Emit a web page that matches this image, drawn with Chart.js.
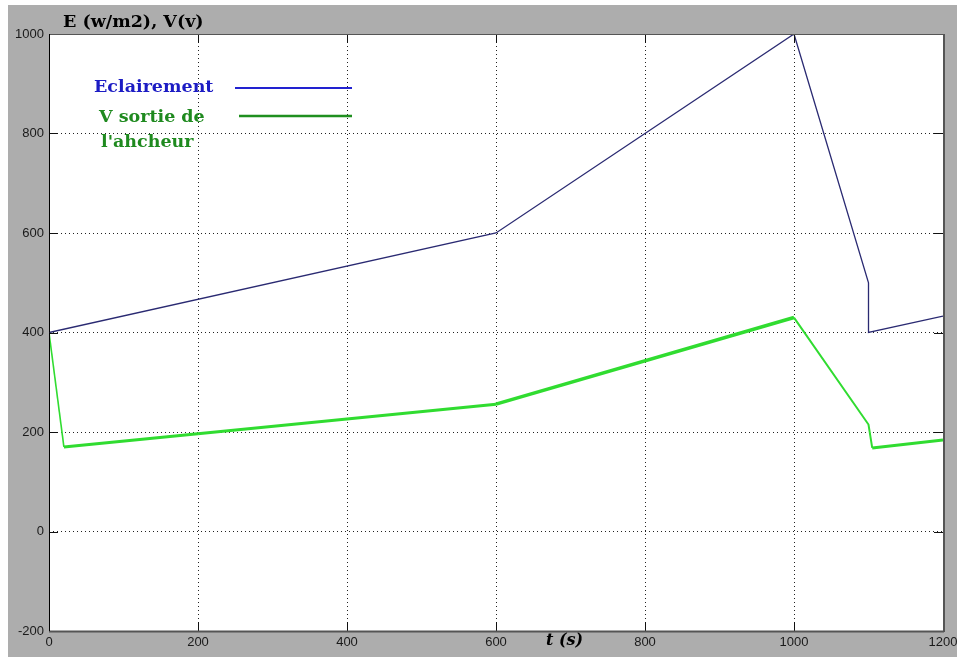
<!DOCTYPE html>
<html>
<head>
<meta charset="utf-8">
<script src="https://cdn.jsdelivr.net/npm/chart.js@4"></script>
<style>
  html, body { margin: 0; padding: 0; background: #ffffff; }
  #wrap { width: 957px; height: 657px; position: relative; }
</style>
</head>
<body>
<div id="wrap"><canvas id="c" width="957" height="657"></canvas></div>
<script>
// Eclairement (W/m2) versus time (s)
const eclTime  = [0, 600, 1000, 1100, 1100, 1200];
const eclValue = [400, 600, 1000, 500, 400, 433];

// Tension de sortie de l'hacheur versus time (s)
const vTime  = [0, 0, 20, 600, 1000, 1100, 1105, 1200];
const vValue = [0, 400, 170, 256, 430, 215, 168, 184];

// Axis tick values
const xTicks = [0, 200, 400, 600, 800, 1000, 1200];
const yTicks = [-200, 0, 200, 400, 600, 800, 1000];

// Stroke width of each green segment (style only)
const vSegWidths = [1.2, 1.6, 3, 3.6, 2, 2, 3];

const toPoints = (xs, ys) => xs.map((x, i) => ({ x: x, y: ys[i] }));

const frameAndText = {
  id: 'frameAndText',
  beforeDraw(chart) {
    const ctx = chart.ctx;
    const a = chart.chartArea;
    ctx.save();
    ctx.fillStyle = '#ffffff';
    ctx.fillRect(0, 0, chart.width, chart.height);
    ctx.fillStyle = '#adadad';
    ctx.fillRect(8, 5, chart.width - 8, chart.height - 5);
    ctx.fillStyle = '#ffffff';
    ctx.fillRect(a.left, a.top, a.right - a.left, a.bottom - a.top);
    ctx.restore();
  },
  afterDraw(chart) {
    const ctx = chart.ctx;
    const a = chart.chartArea;
    const xs = chart.scales.x, ys = chart.scales.y;
    ctx.save();
    // inward tick marks
    ctx.strokeStyle = '#111111';
    ctx.lineWidth = 1;
    const tl = 9;
    ctx.beginPath();
    xTicks.forEach(v => {
      const px = Math.round(xs.getPixelForValue(v)) + 0.5;
      ctx.moveTo(px, a.bottom); ctx.lineTo(px, a.bottom - tl);
      ctx.moveTo(px, a.top); ctx.lineTo(px, a.top + tl);
    });
    yTicks.forEach(v => {
      const py = Math.round(ys.getPixelForValue(v)) + 0.5;
      ctx.moveTo(a.left, py); ctx.lineTo(a.left + tl, py);
      ctx.moveTo(a.right, py); ctx.lineTo(a.right - tl, py);
    });
    ctx.stroke();
    // frame
    ctx.strokeStyle = '#555555';
    ctx.lineWidth = 1;
    ctx.beginPath();
    ctx.moveTo(a.left, a.top + 0.5); ctx.lineTo(a.right, a.top + 0.5);
    ctx.stroke();
    ctx.lineWidth = 2;
    ctx.beginPath();
    ctx.moveTo(a.left, a.bottom + 0.5); ctx.lineTo(a.right + 1, a.bottom + 0.5);
    ctx.moveTo(a.right + 1, a.top); ctx.lineTo(a.right + 1, a.bottom + 1);
    ctx.stroke();
    ctx.strokeStyle = '#000000';
    ctx.lineWidth = 1;
    ctx.beginPath();
    ctx.moveTo(a.left + 0.5, a.top); ctx.lineTo(a.left + 0.5, a.bottom);
    ctx.stroke();

    // axis titles
    ctx.fillStyle = '#000000';
    ctx.textBaseline = 'alphabetic';
    ctx.textAlign = 'left';
    ctx.font = 'bold 17.5px "DejaVu Serif"';
    ctx.fillText('E (w/m2), V(v)', 63, 27);
    ctx.font = 'italic bold 16px "DejaVu Serif"';
    ctx.fillText('t (s)', 546, 645);

    // legend
    ctx.font = 'bold 17.5px "DejaVu Serif"';
    ctx.fillStyle = '#1c1cc4';
    ctx.fillText('Eclairement', 94, 92);
    ctx.strokeStyle = '#2222d0';
    ctx.lineWidth = 2;
    ctx.beginPath(); ctx.moveTo(235, 88); ctx.lineTo(352, 88); ctx.stroke();

    ctx.fillStyle = '#1f8a1f';
    ctx.fillText('V sortie de', 99, 122);
    ctx.fillText("l'ahcheur", 101, 147);
    ctx.strokeStyle = '#1f8f1f';
    ctx.lineWidth = 2.5;
    ctx.beginPath(); ctx.moveTo(239, 116); ctx.lineTo(352, 116); ctx.stroke();
    ctx.restore();
  }
};

const tickFont = { family: '"Liberation Sans", Arial, sans-serif', size: 13 };
const plainLabel = v => String(v);

new Chart(document.getElementById('c'), {
  type: 'line',
  data: {
    datasets: [
      {
        label: 'Eclairement',
        data: toPoints(eclTime, eclValue),
        borderColor: '#2a2a72',
        borderWidth: 1.3,
        pointRadius: 0,
        tension: 0,
        fill: false
      },
      {
        label: "V sortie de l'ahcheur",
        data: toPoints(vTime, vValue),
        borderColor: '#30dc30',
        borderWidth: 3,
        pointRadius: 0,
        tension: 0,
        fill: false,
        segment: {
          borderWidth: c => vSegWidths[c.p0DataIndex]
        }
      }
    ]
  },
  options: {
    responsive: false,
    animation: false,
    devicePixelRatio: 1,
    layout: { padding: { left: 0, top: 34, right: 14, bottom: 0 } },
    plugins: { legend: { display: false }, tooltip: { enabled: false } },
    scales: {
      x: {
        type: 'linear',
        min: 0, max: 1200,
        afterFit: s => { s.height = 26; s.paddingLeft = 0; s.paddingRight = 0; },
        afterBuildTicks: s => { s.ticks = xTicks.map(v => ({ value: v })); },
        ticks: { font: tickFont, color: '#1a1a1a', padding: 4, maxRotation: 0, autoSkip: false, callback: plainLabel },
        grid: { color: '#222222', lineWidth: 1, drawTicks: false },
        border: { display: false, dash: [1, 3] }
      },
      y: {
        type: 'linear',
        min: -200, max: 1000,
        afterFit: s => { s.width = 49; s.paddingTop = 0; s.paddingBottom = 0; },
        afterBuildTicks: s => { s.ticks = yTicks.map(v => ({ value: v })); },
        ticks: { font: tickFont, color: '#1a1a1a', padding: 5, autoSkip: false, callback: plainLabel },
        grid: { color: '#222222', lineWidth: 1, drawTicks: false },
        border: { display: false, dash: [1, 3] }
      }
    }
  },
  plugins: [frameAndText]
});
</script>
</body>
</html>
